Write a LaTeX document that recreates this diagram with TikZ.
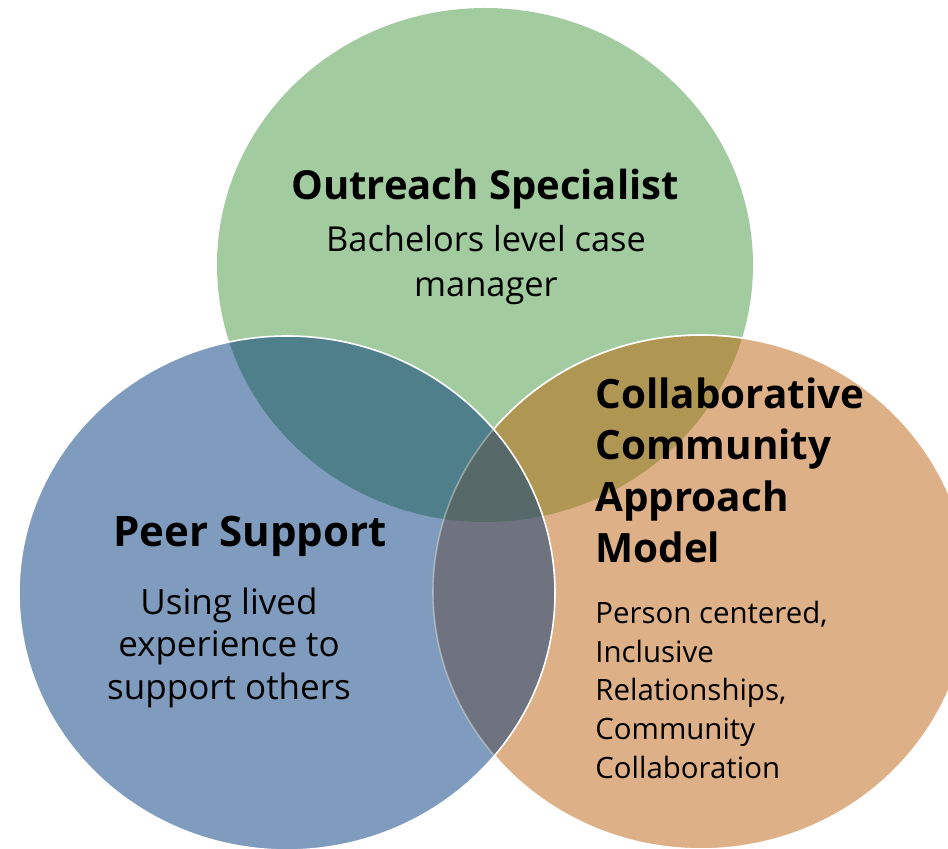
\documentclass[tikz,border=0pt]{standalone}
\usepackage{fontspec}
\setmainfont{Open Sans}
\definecolor{outreachgreen}{HTML}{A2CB9F}
\definecolor{peerblue}{HTML}{7F9BBD}
\definecolor{modelorange}{HTML}{DEB087}
\definecolor{greenblue}{HTML}{4F7F8A}
\definecolor{greenorange}{HTML}{B09653}
\definecolor{blueorange}{HTML}{6E737F}
\definecolor{allthree}{HTML}{566867}
\tikzset{
  title/.style={inner sep=0pt, font=\bfseries},
  body/.style={inner sep=0pt},
  rim/.style={white, line width=0.8pt}
}
\newcommand{\venn}[1]{(#1) ellipse [x radius=134pt, y radius=128.5pt]}
\begin{document}
\begin{tikzpicture}[x=0.5pt, y=-0.5pt]
  \useasboundingbox (0, 0) rectangle (948, 849);
  \coordinate (G) at (485, 265);
  \coordinate (B) at (287, 593);
  \coordinate (O) at (701, 592);
  % the three circles
  \fill[outreachgreen] \venn{G};
  \fill[peerblue] \venn{B};
  \fill[modelorange] \venn{O};
  % overlaps
  \begin{scope}
    \clip \venn{G};
    \fill[greenblue] \venn{B};
    \fill[greenorange] \venn{O};
  \end{scope}
  \begin{scope}
    \clip \venn{B};
    \fill[blueorange] \venn{O};
    \clip \venn{O};
    \fill[allthree] \venn{G};
  \end{scope}
  % white rims
  \draw[rim, opacity=0.35] \venn{O};
  \begin{scope}[even odd rule]
    \clip (-10, -10) rectangle (960, 860) \venn{B};
    \draw[rim] \venn{O};
  \end{scope}
  \draw[rim] \venn{B};
  % texts (base = last line)
  \node[title, anchor=base, font=\fontsize{20}{24}\bfseries] (outreach) at (485, 200)
    {Outreach Specialist};
  \node[body, anchor=base, align=center, font=\fontsize{17.2}{22.5}\selectfont]
    (outreachtext) at (486, 297) {Bachelors level case\\manager};
  \node[title, anchor=base, font=\fontsize{21}{25}\bfseries] (peer) at (250, 547)
    {Peer Support};
  \node[body, anchor=base, align=center, font=\fontsize{17.5}{21.5}\selectfont]
    (peertext) at (229, 700) {Using lived\\experience to\\support others};
  \node[title, anchor=base west, align=left, font=\fontsize{20.2}{25.75}\bfseries]
    (model) at (595, 563) {Collaborative\\Community\\Approach\\Model};
  \node[body, anchor=base west, align=left, font=\fontsize{14.7}{19.3}\selectfont]
    (modeltext) at (595, 778) {Person centered,\\Inclusive\\Relationships,\\Community\\Collaboration};
\end{tikzpicture}
\end{document}
